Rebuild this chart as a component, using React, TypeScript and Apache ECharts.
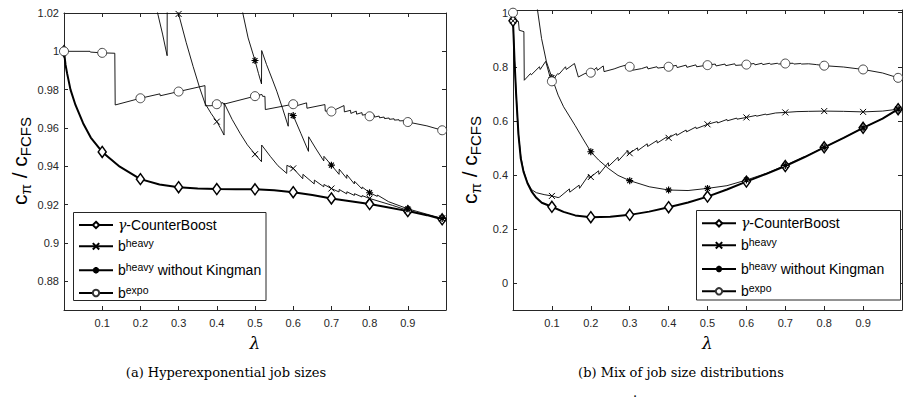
import React, { useEffect, useRef } from 'react';
import * as echarts from 'echarts';

// ---------- data ----------
const NAMES = ['γ-CounterBoost', 'b heavy', 'b heavy without Kingman', 'b expo'];
const XTICKS = [0.1, 0.2, 0.3, 0.4, 0.5, 0.6, 0.7, 0.8, 0.9];
const YTICKS_A = [0.88, 0.9, 0.92, 0.94, 0.96, 0.98, 1, 1.02];
const YTICKS_B = [0, 0.2, 0.4, 0.6, 0.8, 1];
const MARKS = [0, 0.1, 0.2, 0.3, 0.4, 0.5, 0.6, 0.7, 0.8, 0.9, 0.99];

// (a) Hyperexponential job sizes
const A_GAMMA = [[0,1.0],[0.004,0.993],[0.008,0.9886],[0.017,0.98],[0.03,0.972],[0.05,0.9625],[0.07,0.955],[0.1,0.9475],[0.146,0.9398],[0.2,0.9333],[0.25,0.9305],[0.3,0.9291],[0.35,0.9284],[0.4,0.9281],[0.45,0.928],[0.5,0.928],[0.55,0.9275],[0.6,0.9265],[0.65,0.925],[0.7,0.9232],[0.75,0.9218],[0.8,0.9203],[0.85,0.9185],[0.9,0.9166],[0.95,0.9145],[0.99,0.9123]];
const A_HEAVY = [[0.22,1.045],[0.245,1.02],[0.258,1.009],[0.27,0.9977],[0.2705,1.07],[0.3,1.0195],[0.32,1.0045],[0.338,0.9921],[0.355,0.981],[0.369,0.9729],[0.385,0.9676],[0.4,0.9633],[0.41,0.9598],[0.419,0.9563],[0.4195,0.9729],[0.44,0.9645],[0.461,0.9572],[0.48,0.9512],[0.5,0.9463],[0.517,0.9424],[0.5175,0.9511],[0.54,0.9452],[0.56,0.9403],[0.583,0.9363],[0.5835,0.9405],[0.6,0.9389],[0.625,0.9335],[0.6255,0.9358],[0.655,0.9308],[0.6555,0.9328],[0.68,0.9293],[0.6805,0.9305],[0.7,0.9284],[0.72,0.9266],[0.7205,0.9279],[0.74,0.9256],[0.7405,0.9267],[0.76,0.9248],[0.7605,0.9257],[0.78,0.924],[0.7805,0.9247],[0.8,0.9232],[0.83,0.9214],[0.86,0.9196],[0.9,0.917],[0.95,0.9147],[0.99,0.9128]];
const A_HEAVY_NK = [[0.455,1.035],[0.468,1.02],[0.482,1.007],[0.5,0.9952],[0.509,0.9885],[0.517,0.983],[0.5175,1.0004],[0.53,0.9932],[0.545,0.9855],[0.557,0.9792],[0.572,0.9703],[0.587,0.9609],[0.5875,0.9677],[0.6,0.9665],[0.62,0.9572],[0.64,0.9478],[0.6405,0.9554],[0.66,0.949],[0.68,0.9428],[0.6805,0.9452],[0.7,0.9406],[0.72,0.9358],[0.7205,0.9385],[0.74,0.9337],[0.7405,0.9356],[0.76,0.9308],[0.7605,0.9322],[0.78,0.9282],[0.7805,0.9292],[0.8,0.9262],[0.82,0.9243],[0.8205,0.925],[0.85,0.9215],[0.9,0.9178],[0.95,0.915],[0.99,0.9128]];
const A_EXPO = [[0,1.0],[0.068,1.0],[0.069,0.9996],[0.1,0.9992],[0.133,0.999],[0.134,0.972],[0.2,0.9755],[0.251,0.9778],[0.252,0.9768],[0.3,0.979],[0.369,0.9821],[0.37,0.9716],[0.385,0.9716],[0.4,0.9724],[0.416,0.9732],[0.418,0.9724],[0.5,0.9766],[0.518,0.9775],[0.52,0.9765],[0.526,0.9765],[0.527,0.9696],[0.6,0.9724],[0.602,0.9712],[0.635,0.9731],[0.636,0.9703],[0.683,0.9722],[0.684,0.9688],[0.7,0.9686],[0.733,0.9717],[0.734,0.9684],[0.75,0.9692],[0.751,0.9676],[0.765,0.9688],[0.766,0.9672],[0.78,0.968],[0.781,0.9667],[0.795,0.9672],[0.796,0.966],[0.8,0.9661],[0.812,0.9667],[0.813,0.9657],[0.825,0.9662],[0.826,0.9653],[0.838,0.9657],[0.839,0.9649],[0.851,0.9652],[0.852,0.9645],[0.864,0.9648],[0.865,0.9641],[0.877,0.9643],[0.878,0.9637],[0.89,0.9638],[0.891,0.9633],[0.9,0.9631],[0.95,0.9611],[0.99,0.9588]];

// (b) Mix of job size distributions
const B_GAMMA = [[0,0.97],[0.004,0.82],[0.008,0.7],[0.014,0.55],[0.02,0.46],[0.027,0.412],[0.037,0.37],[0.048,0.338],[0.06,0.315],[0.074,0.297],[0.1,0.282],[0.13,0.263],[0.16,0.25],[0.2,0.2435],[0.25,0.245],[0.3,0.252],[0.35,0.264],[0.4,0.2804],[0.45,0.298],[0.5,0.3196],[0.55,0.346],[0.6,0.375],[0.65,0.403],[0.7,0.4328],[0.75,0.466],[0.8,0.502],[0.85,0.537],[0.9,0.574],[0.95,0.608],[0.99,0.643]];
const B_HEAVY = [[0,0.97],[0.004,0.82],[0.008,0.7],[0.014,0.55],[0.02,0.47],[0.027,0.415],[0.037,0.372],[0.048,0.345],[0.06,0.334],[0.08,0.327],[0.1,0.322],[0.116,0.316],[0.12,0.318],[0.145,0.348],[0.146,0.336],[0.17,0.362],[0.171,0.35],[0.195,0.4],[0.196,0.387],[0.2,0.392],[0.22,0.415],[0.221,0.402],[0.245,0.445],[0.246,0.432],[0.27,0.465],[0.271,0.452],[0.295,0.49],[0.296,0.476],[0.3,0.48],[0.32,0.5],[0.321,0.49],[0.345,0.515],[0.346,0.505],[0.37,0.527],[0.371,0.518],[0.395,0.54],[0.396,0.533],[0.4,0.537],[0.42,0.553],[0.421,0.546],[0.445,0.566],[0.446,0.559],[0.47,0.577],[0.471,0.571],[0.5,0.587],[0.525,0.597],[0.526,0.592],[0.55,0.605],[0.551,0.6],[0.575,0.61],[0.576,0.606],[0.6,0.6125],[0.625,0.62],[0.626,0.617],[0.65,0.625],[0.651,0.622],[0.675,0.629],[0.676,0.627],[0.7,0.631],[0.73,0.634],[0.76,0.635],[0.8,0.636],[0.85,0.635],[0.9,0.633],[0.95,0.636],[0.99,0.643]];
const B_HEAVY_NK = [[0.05,1.12],[0.063,1.01],[0.0735,0.904],[0.086,0.818],[0.1,0.76],[0.116,0.695],[0.13,0.652],[0.16,0.582],[0.18,0.533],[0.2,0.4856],[0.22,0.455],[0.245,0.424],[0.27,0.398],[0.3,0.3786],[0.35,0.356],[0.4,0.344],[0.45,0.342],[0.5,0.35],[0.55,0.36],[0.6,0.381],[0.65,0.405],[0.7,0.435],[0.75,0.467],[0.8,0.502],[0.85,0.537],[0.9,0.574],[0.95,0.608],[0.99,0.643]];
const B_EXPO = [[0,1.0],[0.003,0.97],[0.014,0.968],[0.016,0.935],[0.028,0.93],[0.029,0.75],[0.045,0.775],[0.047,0.77],[0.068,0.8],[0.07,0.79],[0.084,0.82],[0.098,0.748],[0.1,0.746],[0.115,0.775],[0.118,0.772],[0.135,0.8],[0.137,0.79],[0.158,0.812],[0.168,0.762],[0.185,0.775],[0.2,0.778],[0.215,0.797],[0.217,0.787],[0.232,0.803],[0.234,0.782],[0.26,0.792],[0.275,0.8],[0.29,0.806],[0.292,0.8],[0.3,0.8],[0.305,0.805],[0.307,0.787],[0.33,0.793],[0.345,0.8],[0.347,0.792],[0.37,0.8],[0.372,0.795],[0.4,0.8],[0.42,0.805],[0.422,0.797],[0.445,0.806],[0.447,0.798],[0.47,0.807],[0.472,0.8],[0.5,0.806],[0.52,0.81],[0.522,0.803],[0.545,0.81],[0.547,0.804],[0.57,0.811],[0.572,0.805],[0.6,0.808],[0.62,0.812],[0.622,0.807],[0.64,0.813],[0.642,0.808],[0.66,0.813],[0.662,0.809],[0.68,0.813],[0.682,0.81],[0.7,0.812],[0.72,0.813],[0.722,0.81],[0.74,0.812],[0.742,0.81],[0.76,0.811],[0.78,0.808],[0.8,0.804],[0.85,0.799],[0.9,0.79],[0.95,0.777],[0.99,0.759]];

// ---------- helpers ----------
const AXIS_COLOR = '#262626';
const SANS = 'Liberation Sans';
const SERIF = 'DejaVu Serif';

const isMark = (x: number) => MARKS.some((m) => Math.abs(m - x) < 1e-9);
const toItems = (pts: number[][]) =>
  pts.map(([x, y]) => (isMark(x) ? { value: [x, y] } : { value: [x, y], symbol: 'none' }));

const X_PATH = 'path://M0,0L10,10M10,0L0,10';
const STAR_PATH = 'path://M5,0L5,10M0,5L10,5M1.5,1.5L8.5,8.5M8.5,1.5L1.5,8.5';

const STYLES: any[] = [
  { symbol: 'diamond', symbolSize: [8, 11], lineStyle: { color: '#000', width: 2 }, itemStyle: { color: '#fff', borderColor: '#000', borderWidth: 1.5 } },
  { symbol: X_PATH, symbolSize: 6, lineStyle: { color: '#000', width: 0.9 }, itemStyle: { color: '#000', borderColor: '#000', borderWidth: 1 } },
  { symbol: STAR_PATH, symbolSize: 7, lineStyle: { color: '#000', width: 0.9 }, itemStyle: { color: '#000', borderColor: '#000', borderWidth: 1.2 } },
  { symbol: 'circle', symbolSize: 9, lineStyle: { color: '#000', width: 0.9 }, itemStyle: { color: '#fff', borderColor: '#333', borderWidth: 0.9 } },
];

function makeSeries(idx: number, pts: number[][], axis: number) {
  return {
    type: 'line',
    name: NAMES[idx],
    xAxisIndex: axis,
    yAxisIndex: axis,
    data: toItems(pts),
    showSymbol: true,
    showAllSymbol: true,
    clip: true,
    emphasis: { disabled: true },
    ...STYLES[idx],
  };
}

function xAxis(gridIndex: number, position: string, labels: boolean) {
  return {
    type: 'value', gridIndex, position, min: 0, max: 1,
    axisLine: { show: true, onZero: false, lineStyle: { color: AXIS_COLOR, width: 1 } },
    axisTick: { show: true, inside: true, length: 4, customValues: XTICKS, lineStyle: { color: AXIS_COLOR } },
    axisLabel: { show: labels, customValues: XTICKS, margin: 7, color: AXIS_COLOR, fontSize: 11, fontFamily: SANS, formatter: (v: number) => String(v) },
    splitLine: { show: false },
    ...(labels ? { name: 'λ', nameLocation: 'middle', nameGap: 24, nameTextStyle: { fontFamily: SERIF, fontStyle: 'italic', fontSize: 17, color: '#000' } } : {}),
  };
}

function yAxis(gridIndex: number, position: string, labels: boolean, min: number, max: number, ticks: number[]) {
  return {
    type: 'value', gridIndex, position, min, max,
    axisLine: { show: true, onZero: false, lineStyle: { color: AXIS_COLOR, width: 1 } },
    axisTick: { show: true, inside: true, length: 4, customValues: ticks, lineStyle: { color: AXIS_COLOR } },
    axisLabel: { show: labels, customValues: ticks, margin: 5, color: AXIS_COLOR, fontSize: 11, fontFamily: SANS, formatter: (v: number) => String(v) },
    splitLine: { show: false },
  };
}

const legendRich = {
  g: { fontFamily: SERIF, fontStyle: 'italic', fontSize: 14, lineHeight: 18, color: '#000' },
  n: { fontFamily: SANS, fontSize: 14, lineHeight: 18, color: '#000' },
  m: { fontFamily: SANS, fontSize: 14, lineHeight: 18, color: '#000' },
  s: { fontFamily: SANS, fontSize: 10.5, lineHeight: 10, verticalAlign: 'top', color: '#000' },
};
const legendFormatter = (name: string) => {
  if (name === NAMES[0]) return '{g|γ}{n|-CounterBoost}';
  if (name === NAMES[1]) return '{m|b}{s|heavy}';
  if (name === NAMES[2]) return '{m|b}{s|heavy}{m| without Kingman}';
  return '{m|b}{s|expo}';
};
// one legend per row so that each row sits where it does in the figure
function legendRow(idx: number, left: number, top: number) {
  return {
    data: [NAMES[idx]], orient: 'vertical', left, top, padding: 0,
    itemWidth: 34, itemHeight: 8, itemGap: 0,
    selectedMode: false, z: 5,
    textStyle: { rich: legendRich, color: '#000' },
    formatter: legendFormatter,
  };
}
const LEFT_ROWS = [218, 237.3, 261.3, 284];
const RIGHT_ROWS = [216.3, 236.3, 260, 282.3];

const legendBox = (x: number, y: number, w: number, h: number) => ({
  type: 'rect', z: 3, shape: { x, y, width: w, height: h },
  style: { fill: '#fff', stroke: AXIS_COLOR, lineWidth: 1 },
});

const yNameRich = {
  c: { fontFamily: SANS, fontSize: 21, lineHeight: 27, color: AXIS_COLOR },
  s: { fontFamily: SANS, fontSize: 15, lineHeight: 15, verticalAlign: 'bottom', color: AXIS_COLOR },
};
const yName = (x: number, y: number) => ({
  type: 'text', x, y, rotation: Math.PI / 2, z: 5,
  style: { text: '{c|c}{s|π}{c| / c}{s|FCFS}', rich: yNameRich, align: 'center', verticalAlign: 'middle' },
});
const caption = (x: number, y: number, text: string) => ({
  type: 'text', x, y, z: 5,
  style: { text, fontFamily: SERIF, fontSize: 13, fill: '#000', align: 'center', verticalAlign: 'middle' },
});

const option: any = {
  animation: false,
  backgroundColor: '#fff',
  grid: [
    { left: 64, top: 13, width: 382, height: 297 },
    { left: 513, top: 10, width: 389, height: 300 },
  ],
  xAxis: [xAxis(0, 'bottom', true), xAxis(0, 'top', false), xAxis(1, 'bottom', true), xAxis(1, 'top', false)],
  yAxis: [
    yAxis(0, 'left', true, 0.865, 1.02, YTICKS_A),
    yAxis(0, 'right', false, 0.865, 1.02, YTICKS_A),
    yAxis(1, 'left', true, -0.1, 1.01, YTICKS_B),
    yAxis(1, 'right', false, -0.1, 1.01, YTICKS_B),
  ],
  legend: [
    ...LEFT_ROWS.map((t, i) => legendRow(i, 78, t)),
    ...RIGHT_ROWS.map((t, i) => legendRow(i, 701, t)),
  ],
  series: [
    makeSeries(0, A_GAMMA, 0),
    makeSeries(1, A_HEAVY, 0),
    makeSeries(2, A_HEAVY_NK, 0),
    makeSeries(3, A_EXPO, 0),
    makeSeries(0, B_GAMMA, 2),
    makeSeries(1, B_HEAVY, 2),
    makeSeries(2, B_HEAVY_NK, 2),
    makeSeries(3, B_EXPO, 2),
  ],
  graphic: [
    legendBox(73.5, 212.5, 192.5, 88),
    legendBox(696.5, 210.5, 204, 89.5),
    yName(19, 161),
    yName(469, 160),
    caption(226, 372, '(a) Hyperexponential job sizes'),
    caption(681, 372, '(b) Mix of job size distributions'),
    { type: 'text', x: 635, y: 392, z: 5, style: { text: '.', fontFamily: SERIF, fontSize: 13, fill: '#000', align: 'center', verticalAlign: 'middle' } },
  ],
};

export default function App() {
  const ref = useRef<HTMLDivElement>(null);
  useEffect(() => {
    const chart = echarts.init(ref.current!, null, { renderer: 'svg' });
    chart.setOption(option);
    return () => chart.dispose();
  }, []);
  return <div ref={ref} style={{ width: 909, height: 404, position: 'absolute', left: 0, top: 0 }} />;
}
